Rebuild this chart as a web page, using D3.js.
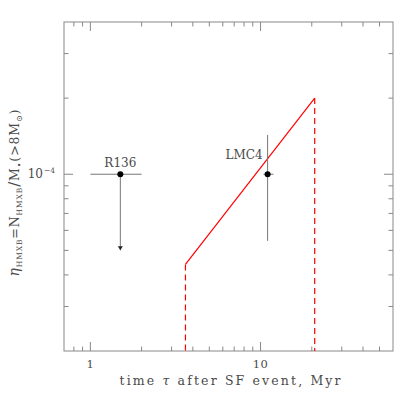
<!DOCTYPE html>
<html>
<head>
<meta charset="utf-8">
<script src="https://cdn.jsdelivr.net/npm/d3@7"></script>
<style>
  body { margin: 0; background: #fff; }
  svg text { font-family: "DejaVu Serif", serif; fill: #4a4a4a; }
</style>
</head>
<body>
<svg id="chart" width="415" height="415"></svg>
<script>
// data
const xDomain = [0.7, 60];
const yDomain = [2e-5, 4e-4];
const xMajor = [1, 10];
const xMinor = [0.8, 0.9, 2, 3, 4, 5, 6, 7, 8, 9, 20, 30, 40, 50];
const yMajor = [1e-4];
const yMinor = [3e-5, 4e-5, 5e-5, 6e-5, 7e-5, 8e-5, 9e-5, 2e-4, 3e-4];

const clusterNames = ["R136", "LMC4"];
const clusterTime = [1.5, 11.0];
const clusterTimeLo = [1.0, 10.4];
const clusterTimeHi = [2.0, 11.9];
const clusterEta = [1e-4, 1e-4];
const clusterEtaLo = [5e-5, 5.45e-5];
const clusterEtaHi = [1e-4, 1.43e-4];
const clusterUpperLimit = [true, false];

const modelTime = [3.62, 20.8];
const modelEta = [4.4e-5, 2.0e-4];

const svg = d3.select("#chart");
const pLeft = 64, pRight = 393, pTop = 22, pBottom = 351;

const x = d3.scaleLog().domain(xDomain).range([pLeft, pRight]);
const y = d3.scaleLog().domain(yDomain).range([pBottom, pTop]);

const axisColor = "#888";
const g = svg.append("g");

// frame
g.append("rect")
  .attr("x", pLeft).attr("y", pTop)
  .attr("width", pRight - pLeft).attr("height", pBottom - pTop)
  .attr("fill", "none").attr("stroke", axisColor).attr("stroke-width", 1);

// ticks on all four sides, pointing inward
function xTicks(vals, len) {
  g.selectAll(null).data(vals).join("line")
    .attr("x1", d => x(d)).attr("x2", d => x(d))
    .attr("y1", pBottom).attr("y2", pBottom - len)
    .attr("stroke", axisColor);
  g.selectAll(null).data(vals).join("line")
    .attr("x1", d => x(d)).attr("x2", d => x(d))
    .attr("y1", pTop).attr("y2", pTop + len)
    .attr("stroke", axisColor);
}
function yTicks(vals, len) {
  g.selectAll(null).data(vals).join("line")
    .attr("y1", d => y(d)).attr("y2", d => y(d))
    .attr("x1", pLeft).attr("x2", pLeft + len)
    .attr("stroke", axisColor);
  g.selectAll(null).data(vals).join("line")
    .attr("y1", d => y(d)).attr("y2", d => y(d))
    .attr("x1", pRight).attr("x2", pRight - len)
    .attr("stroke", axisColor);
}
xTicks(xMinor, 4.5);
xTicks(xMajor, 9);
yTicks(yMinor, 4.5);
yTicks(yMajor, 9);

// tick labels
g.selectAll(null).data(xMajor).join("text")
  .attr("x", d => x(d)).attr("y", pBottom + 17)
  .attr("text-anchor", "middle").attr("font-size", 11.5)
  .attr("letter-spacing", 0.5)
  .text(d => d3.format("d")(d));

yMajor.forEach(v => {
  const t = g.append("text")
    .attr("x", pLeft - 9).attr("y", y(v) + 4)
    .attr("text-anchor", "end").attr("font-size", 12);
  t.append("tspan").text("10");
  t.append("tspan").attr("font-size", 7.5).attr("dy", -5).attr("dx", 1).text("\u2212" + Math.round(-Math.log10(v)));
});

// axis titles
const xt = g.append("text")
  .attr("x", 230).attr("y", 385)
  .attr("text-anchor", "middle").attr("font-size", 12.5)
  .attr("textLength", 221).attr("lengthAdjust", "spacing");
xt.append("tspan").text("time ");
xt.append("tspan").attr("font-style", "italic").text("\u03c4");
xt.append("tspan").text(" after SF event, Myr");

const yt = g.append("text")
  .attr("transform", `translate(19,193) rotate(-90)`)
  .attr("text-anchor", "middle").attr("font-size", 12.5)
  .attr("textLength", 167).attr("lengthAdjust", "spacing");
yt.append("tspan").attr("font-style", "italic").attr("font-size", 14).text("\u03b7");
yt.append("tspan").attr("font-size", 7.5).attr("dy", 3).text("HMXB");
yt.append("tspan").attr("dy", -3).text("=N");
yt.append("tspan").attr("font-size", 7.5).attr("dy", 3).text("HMXB");
yt.append("tspan").attr("dy", -3).attr("font-size", 15).text("/");
yt.append("tspan").text("M");
yt.append("tspan").attr("font-size", 8).attr("dy", 3).text("\u2022");
yt.append("tspan").attr("dy", -3).text("(>8M");
yt.append("tspan").attr("font-size", 8).attr("dy", 3).text("\u2299");
yt.append("tspan").attr("dy", -3).text(")");

// model line (red) and dashed drop lines
g.append("path")
  .attr("d", d3.line().x(d => x(d[0])).y(d => y(d[1]))(d3.zip(modelTime, modelEta)))
  .attr("fill", "none").attr("stroke", "#ff0000").attr("stroke-width", 1.2);
g.selectAll(null).data(d3.zip(modelTime, modelEta)).join("line")
  .attr("x1", d => x(d[0])).attr("x2", d => x(d[0]))
  .attr("y1", d => y(d[1])).attr("y2", y(yDomain[0]))
  .attr("stroke", "#ff0000").attr("stroke-width", 1.2)
  .attr("stroke-dasharray", "6,4");

// clusters
const clusters = clusterNames.map((n, i) => ({
  name: n, t: clusterTime[i], tLo: clusterTimeLo[i], tHi: clusterTimeHi[i],
  eta: clusterEta[i], lo: clusterEtaLo[i], hi: clusterEtaHi[i], ul: clusterUpperLimit[i]
}));

const errColor = "#777";
const cg = g.selectAll(".cluster").data(clusters).join("g").attr("class", "cluster");
cg.append("line")
  .attr("x1", d => x(d.tLo)).attr("x2", d => x(d.tHi))
  .attr("y1", d => y(d.eta)).attr("y2", d => y(d.eta))
  .attr("stroke", errColor);
cg.append("line")
  .attr("x1", d => x(d.t)).attr("x2", d => x(d.t))
  .attr("y1", d => y(d.hi)).attr("y2", d => y(d.lo))
  .attr("stroke", errColor);
cg.filter(d => d.ul).append("path")
  .attr("d", d => {
    const px = x(d.t), py = y(d.lo);
    return `M${px - 2.5},${py - 4}L${px + 2.5},${py - 4}L${px},${py}Z`;
  })
  .attr("fill", "#222");
cg.append("circle")
  .attr("cx", d => x(d.t)).attr("cy", d => y(d.eta))
  .attr("r", 3).attr("fill", "#000");

// labels
g.append("text")
  .attr("x", x(clusterTime[0])).attr("y", y(clusterEta[0]) - 7)
  .attr("text-anchor", "middle").attr("font-size", 12)
  .text(clusterNames[0]);
g.append("text")
  .attr("x", x(clusterTime[1]) - 5).attr("y", y(clusterEta[1]) - 15)
  .attr("text-anchor", "end").attr("font-size", 12)
  .text(clusterNames[1]);
</script>
</body>
</html>
